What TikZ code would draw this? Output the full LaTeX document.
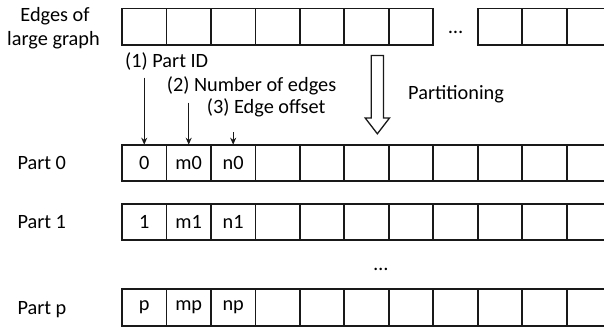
\documentclass[tikz,border=0pt]{standalone}
\usepackage{fontspec}
\setmainfont{Carlito}
\usetikzlibrary{arrows.meta}
\tikzset{
  cell/.style={draw=black!90, line width=1.8pt, minimum width=44.47pt, minimum height=36.6pt, inner sep=0pt, outer sep=0pt, font=\fontsize{20.3}{24}\selectfont},
  lbl/.style={inner sep=0pt, font=\fontsize{20.3}{24}\selectfont},
  ann/.style={draw=black!90, line width=1.3pt, -{Stealth[length=7pt,width=6pt]}},
  hollow/.style={draw=black!90, line width=1.3pt, fill=white}
}
\begin{document}
\begin{tikzpicture}[x=1pt,y=-1pt]
\useasboundingbox (0,0) rectangle (604,328);
\clip (0,0) rectangle (604,328);
% top row
\foreach \i in {0,...,6,8,9,10} {
  \node[cell] (t\i) at ({122+22.235+44.47*\i},26.75) {};
}
\node[lbl, anchor=base] (tdots) at (455.5,34) {…};
% part rows
\foreach \i in {0,...,10} {
  \node[cell] (a\i) at ({122+22.235+44.47*\i},163) {};
  \node[cell] (b\i) at ({122+22.235+44.47*\i},222) {};
  \node[cell] (c\i) at ({122+22.235+44.47*\i},307.5) {};
}
\node[lbl] at (a0) {0};
\node[lbl] at (a1) {m0};
\node[lbl] at (a2) {n0};
\node[lbl] at (b0) {1};
\node[lbl] at (b1) {m1};
\node[lbl] at (b2) {n1};
\node[lbl] at (c0) {p};
\node[lbl] at (c1) {mp};
\node[lbl] at (c2) {np};
\node[lbl, anchor=base] (bdots) at (381,270) {…};
% left labels
\node[lbl, anchor=base] (e1) at (55,21.7) {Edges of};
\node[lbl, anchor=base] (e2) at (53.5,45.7) {large graph};
\node[lbl, anchor=base west] (p0) at (17.3,170) {Part 0};
\node[lbl, anchor=base west] (p1) at (17.3,229) {Part 1};
\node[lbl, anchor=base west] (pp) at (17.3,314.5) {Part p};
% annotations
\node[lbl, anchor=base west] (l1) at (125,67.7) {(1) Part ID};
\node[lbl, anchor=base west] (l2) at (166.7,91.7) {(2) Number of edges};
\node[lbl, anchor=base west] (l3) at (206.7,113.3) {(3) Edge offset};
\coordinate (s1) at (a0.north |- 0,77.7);
\coordinate (s2) at (a1.north |- 0,102.7);
\coordinate (s3) at (a2.north |- 0,132.5);
\draw[ann] (s1) -- (a0.north);
\draw[ann] (s2) -- (a1.north);
\draw[ann] (s3) -- (a2.north);
% partitioning arrow
\draw[hollow] (371.2,55.5) -- (383.5,55.5) -- (383.5,118) -- (389.5,118) -- (377.35,133.8) -- (365.2,118) -- (371.2,118) -- cycle;
\node[lbl, anchor=base west] (pt) at (408,100) {Partitioning};
\end{tikzpicture}
\end{document}
